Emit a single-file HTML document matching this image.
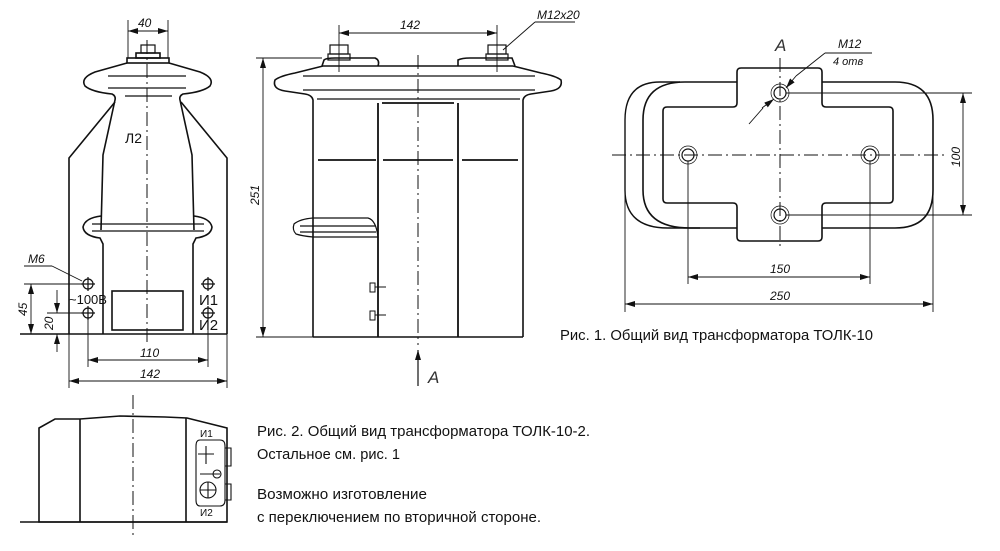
<!DOCTYPE html>
<html><head><meta charset="utf-8"><style>
html,body{margin:0;padding:0;background:#fff}
svg{display:block}
text{font-family:"Liberation Sans",sans-serif;fill:#111}
.it{font-style:italic;fill:#333}
</style></head><body>
<svg width="1000" height="551" viewBox="0 0 1000 551" xmlns="http://www.w3.org/2000/svg">
<defs><marker id="a" viewBox="0 0 10 6" refX="10" refY="3" markerWidth="10" markerHeight="6" orient="auto-start-reverse" markerUnits="userSpaceOnUse"><path d="M0,0L10,3L0,6z" fill="#111"/></marker></defs>
<g fill="none" stroke="#111" stroke-width="1.6">
<!-- VIEW 1 -->
<rect x="127" y="58" width="42" height="5"/><rect x="136" y="53" width="24" height="5"/><rect x="141" y="45" width="14" height="8" stroke-width="1.2"/>
<path d="M127,63 L95,72 Q80,78 85,86 Q92,92 112,94 Q116,96 115,100 L103,155 L101,230"/>
<path d="M169,63 L200,72 Q215,78 210,86 Q203,92 183,94 Q179,96 180,100 L192,155 L194,230"/>
<line x1="108" y1="76" x2="186" y2="76" stroke-width="1.2"/><line x1="108" y1="88" x2="186" y2="88" stroke-width="1.2"/>
<line x1="125" y1="96" x2="172" y2="96" stroke-width="1.2"/>
<path d="M101,216 Q85,218 83,227 Q84,236 100,238 L103,244 L103,334"/>
<path d="M194,216 Q210,218 212,227 Q211,236 196,238 L193,244 L193,334"/>
<line x1="92" y1="224" x2="204" y2="224" stroke-width="1.2"/><line x1="92" y1="231" x2="204" y2="231" stroke-width="1.2"/>
<path d="M69,334 L69,158 L115,102"/><path d="M227,334 L227,158 L181,102"/>
<line x1="20" y1="334" x2="227" y2="334"/>
<rect x="112" y="291" width="71" height="39"/>
<g stroke-width="1.2"><circle cx="88" cy="284" r="5"/><circle cx="88" cy="313" r="5"/><circle cx="208" cy="284" r="5"/><circle cx="208" cy="313" r="5"/>
<path d="M81,284h14M88,277v14M81,313h14M88,306v14M201,284h14M208,277v14M201,313h14M208,306v14"/></g>
<line x1="147" y1="40" x2="147" y2="345" stroke-width="1" stroke-dasharray="14,4,2,4"/>
<g stroke-width="0.9">
<line x1="128" y1="20" x2="128" y2="58"/><line x1="168" y1="20" x2="168" y2="58"/>
<line x1="128" y1="31" x2="168" y2="31" marker-start="url(#a)" marker-end="url(#a)"/>
<line x1="24" y1="266" x2="52" y2="266"/><line x1="52" y1="266" x2="82" y2="281"/>
<line x1="24" y1="284" x2="82" y2="284"/><line x1="47" y1="313" x2="82" y2="313"/>
<line x1="31" y1="284" x2="31" y2="334" marker-start="url(#a)" marker-end="url(#a)"/>
<line x1="57" y1="290" x2="57" y2="313" marker-end="url(#a)"/><line x1="57" y1="352" x2="57" y2="334" marker-end="url(#a)"/>
<line x1="88" y1="318" x2="88" y2="367"/><line x1="208" y1="318" x2="208" y2="367"/>
<line x1="88" y1="360" x2="208" y2="360" marker-start="url(#a)" marker-end="url(#a)"/>
<line x1="69" y1="334" x2="69" y2="388"/><line x1="227" y1="334" x2="227" y2="388"/>
<line x1="69" y1="381" x2="227" y2="381" marker-start="url(#a)" marker-end="url(#a)"/>
</g>
<!-- VIEW 2 -->
<path d="M313,337 L313,100 Q312,95 305,94 L285,91 Q272,89 275,80 Q280,76 295,73 L323,66 L513,66"/>
<path d="M523,337 L523,100 Q524,95 531,94 L551,91 Q563,89 561,80 Q556,76 541,73 L513,66"/>
<line x1="303" y1="76" x2="535" y2="76" stroke-width="1.2"/><line x1="303" y1="90" x2="535" y2="90" stroke-width="1.2"/>
<line x1="317" y1="99" x2="520" y2="99" stroke-width="1.2"/>
<line x1="313" y1="337" x2="523" y2="337"/>
<path d="M322,66 L324,60 Q326,58 335,58 L375,58 Q380,60 378,66"/><path d="M458,66 L458,60 Q462,58 470,58 L512,58 L515,66"/>
<rect x="328" y="54" width="22" height="6" stroke-width="1.2"/><rect x="330" y="45" width="18" height="9" stroke-width="1.2"/>
<rect x="486" y="54" width="22" height="6" stroke-width="1.2"/><rect x="488" y="45" width="18" height="9" stroke-width="1.2"/>
<path d="M378,103 L378,337 M458,103 L458,337 M382,103 L454,103" stroke-width="1.8"/>
<path d="M318,160 L376,160 M383,160 L453,160 M462,160 L518,160" stroke-width="1.8"/>
<path d="M313,218 Q300,219 294,224 Q292,230 296,234 Q302,236 313,237 L378,237 Q376,220 368,218 Z" stroke-width="1.2"/>
<line x1="300" y1="226" x2="376" y2="226" stroke-width="1.2"/><line x1="300" y1="232" x2="376" y2="232" stroke-width="1.2"/>
<rect x="370" y="283" width="5" height="9" stroke-width="1"/><line x1="375" y1="287" x2="386" y2="287" stroke-width="1"/>
<rect x="370" y="311" width="5" height="9" stroke-width="1"/><line x1="375" y1="315" x2="386" y2="315" stroke-width="1"/>
<line x1="418" y1="55" x2="418" y2="345" stroke-width="1" stroke-dasharray="14,4,2,4"/>
<g stroke-width="0.9">
<line x1="339" y1="25" x2="339" y2="72"/><line x1="497" y1="25" x2="497" y2="72"/>
<line x1="339" y1="33" x2="497" y2="33" marker-start="url(#a)" marker-end="url(#a)"/>
<line x1="503" y1="50" x2="535" y2="22"/><line x1="535" y1="22" x2="575" y2="22"/>
<line x1="256" y1="58" x2="322" y2="58"/><line x1="256" y1="337" x2="313" y2="337"/>
<line x1="263" y1="58" x2="263" y2="337" marker-start="url(#a)" marker-end="url(#a)"/>
</g>
<line x1="418" y1="386" x2="418" y2="350" stroke-width="1.2" marker-end="url(#a)"/>
<!-- VIEW 3 -->
<path d="M680,82 L660,82 Q625,82 625,120 L625,190 Q625,228 668,228 L700,228" stroke-width="1.4"/>
<path d="M737,82 L685,82 Q643,82 643,120 L643,190 Q643,228 690,228 L737,228 M822,82 L895,82 Q933,82 933,120 L933,190 Q933,228 895,228 L822,228"/>
<path d="M741,68 L818,68 Q822,68 822,72 L822,103 Q822,107 826,107 L889,107 Q893,107 893,111 L893,199 Q893,203 889,203 L826,203 Q822,203 822,207 L822,237 Q822,241 818,241 L741,241 Q737,241 737,237 L737,207 Q737,203 733,203 L667,203 Q663,203 663,199 L663,111 Q663,107 667,107 L733,107 Q737,107 737,103 L737,72 Q737,68 741,68 Z"/>
<g stroke-width="1.2"><circle cx="780" cy="93" r="6"/><circle cx="688" cy="155" r="6"/><circle cx="870" cy="155" r="6"/><circle cx="780" cy="215" r="6"/></g>
<g stroke-width="0.7"><circle cx="780" cy="93" r="9"/><circle cx="688" cy="155" r="9"/><circle cx="870" cy="155" r="9"/><circle cx="780" cy="215" r="9"/></g>
<line x1="780" y1="58" x2="780" y2="250" stroke-width="1" stroke-dasharray="14,4,2,4"/>
<line x1="612" y1="155" x2="945" y2="155" stroke-width="1" stroke-dasharray="14,4,2,4"/>
<g stroke-width="0.9">
<line x1="749" y1="124" x2="763" y2="108"/><line x1="762" y1="108" x2="774" y2="99" marker-end="url(#a)"/>
<line x1="796" y1="76" x2="786" y2="88" marker-end="url(#a)"/><line x1="796" y1="76" x2="825" y2="53"/><line x1="825" y1="53" x2="872" y2="53"/>
<line x1="786" y1="93" x2="972" y2="93"/><line x1="786" y1="215" x2="972" y2="215"/>
<line x1="963" y1="93" x2="963" y2="215" marker-start="url(#a)" marker-end="url(#a)"/>
<line x1="688" y1="161" x2="688" y2="284"/><line x1="870" y1="161" x2="870" y2="284"/>
<line x1="688" y1="277" x2="870" y2="277" marker-start="url(#a)" marker-end="url(#a)"/>
<line x1="625" y1="190" x2="625" y2="312"/><line x1="933" y1="190" x2="933" y2="312"/>
<line x1="625" y1="304" x2="933" y2="304" marker-start="url(#a)" marker-end="url(#a)"/>
</g>
<!-- VIEW 4 -->
<path d="M39,522 L39,428 L55,419 L80,419 L120,416 L165,417 L187,418 L227,428 L227,522 Z"/>
<line x1="80" y1="419" x2="80" y2="522"/><line x1="186" y1="418" x2="186" y2="522"/>
<line x1="20" y1="522" x2="227" y2="522"/>
<line x1="133" y1="395" x2="133" y2="538" stroke-width="1" stroke-dasharray="14,4,2,4"/>
<g stroke-width="1.1">
<path d="M200,440 L220,440 Q225,440 225,446 L225,500 Q225,506 220,506 L200,506 Q196,506 196,500 L196,446 Q196,440 200,440 Z"/>
<path d="M225,448 L231,448 L231,466 L225,466 M225,484 L231,484 L231,500 L225,500"/>
<path d="M198,454 L214,454 M206,446 L206,464"/>
<circle cx="208" cy="490" r="8"/><circle cx="217" cy="474" r="4"/>
<path d="M200,490h16M208,482v16M200,474h20"/>
</g>
</g>
<g font-size="12" class="it">
<text x="138" y="27">40</text>
<text x="400" y="29">142</text>
<text x="537" y="19">M12x20</text>
<text x="28" y="263">M6</text>
<text transform="translate(27,316) rotate(-90)">45</text>
<text transform="translate(53,330) rotate(-90)">20</text>
<text x="140" y="357">110</text>
<text x="140" y="378">142</text>
<text transform="translate(259,205) rotate(-90)">251</text>
<text x="838" y="48">M12</text>
<text x="833" y="65" font-size="11">4 отв</text>
<text x="770" y="273">150</text>
<text x="770" y="300">250</text>
<text transform="translate(960,167) rotate(-90)">100</text>
</g>
<text x="428" y="383" font-size="17" class="it">A</text>
<text x="775" y="51" font-size="17" class="it">A</text>
<text x="125" y="143" font-size="14">Л2</text>
<text x="69" y="304" font-size="13">~100В</text>
<text x="199" y="305" font-size="15">И1</text>
<text x="199" y="330" font-size="15">И2</text>
<text x="200" y="437" font-size="10">И1</text>
<text x="200" y="516" font-size="10">И2</text>
<g font-size="15">
<text x="560" y="340" textLength="313" lengthAdjust="spacingAndGlyphs">Рис. 1. Общий вид трансформатора ТОЛК-10</text>
<text x="257" y="436" textLength="333" lengthAdjust="spacingAndGlyphs">Рис. 2. Общий вид трансформатора ТОЛК-10-2.</text>
<text x="257" y="459" textLength="143" lengthAdjust="spacingAndGlyphs">Остальное см. рис. 1</text>
<text x="257" y="499" textLength="170" lengthAdjust="spacingAndGlyphs">Возможно изготовление</text>
<text x="257" y="522" textLength="284" lengthAdjust="spacingAndGlyphs">с переключением по вторичной стороне.</text>
</g>
</svg>
</body></html>
